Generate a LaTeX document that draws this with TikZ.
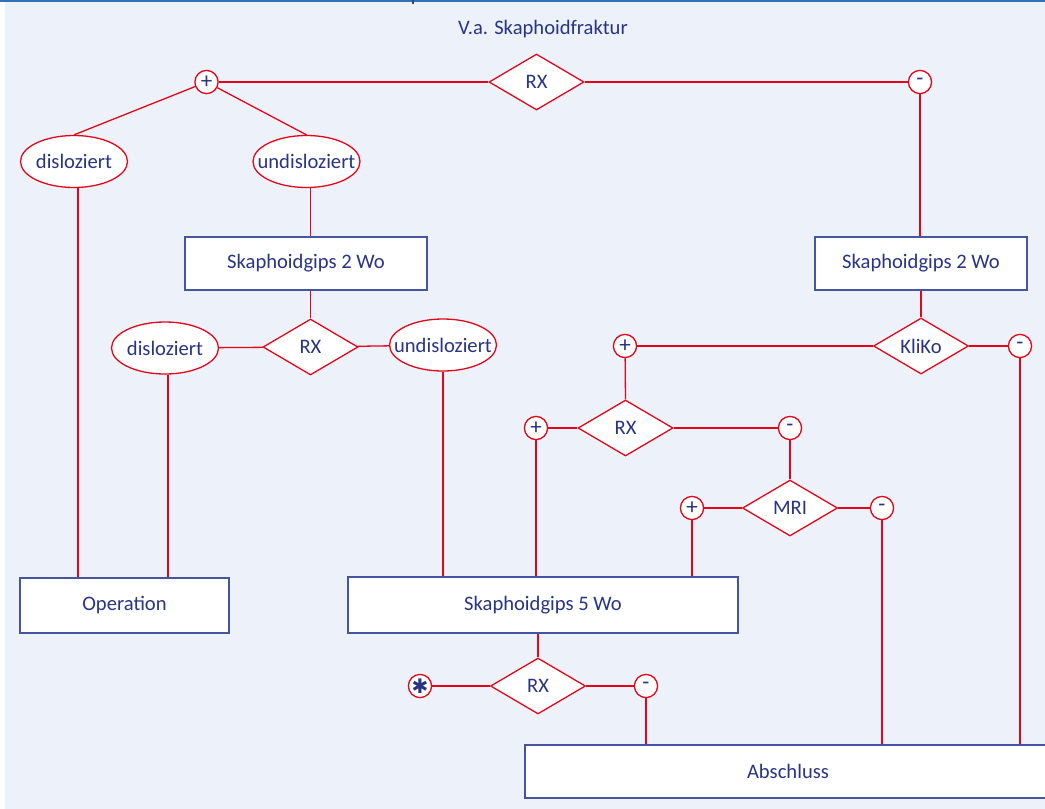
\documentclass[tikz,border=0pt]{standalone}
\usepackage{fontspec}
\setmainfont{Carlito}
\newfontfamily\symfont{DejaVu Sans}
\usetikzlibrary{shapes,arrows,positioning,fit,backgrounds}
\definecolor{linered}{RGB}{227, 6, 26}
\definecolor{navy}{RGB}{40, 52, 132}
\definecolor{boxblue}{RGB}{70, 86, 158}
\definecolor{bgblue}{RGB}{237, 242, 250}
\definecolor{topblue}{RGB}{52, 112, 178}

\begin{document}
\begin{tikzpicture}[x=0.5pt, y=-0.5pt,
  every node/.style={text=navy, font=\fontsize{10.3}{12}\selectfont},
  box/.style={draw=boxblue, line width=1pt, fill=white, inner sep=0pt, minimum height=26.5pt},
  test/.style={diamond, aspect=1.7, draw=linered, line width=0.65pt, fill=white, inner sep=0pt, minimum width=47.5pt, minimum height=28pt},
  finding/.style={ellipse, draw=linered, line width=0.65pt, fill=white, inner sep=0pt, minimum width=53.5pt, minimum height=26pt, label={center:#1}},
  answer/.style={circle, draw=linered, line width=0.65pt, fill=white, inner sep=0pt, minimum size=11.6pt, font=\fontsize{11.5}{12}\selectfont},
  link/.style={draw=linered, line width=0.65pt}]
\useasboundingbox (0,0) rectangle (1045,809);
\clip (0,0) rectangle (1045,809);
\fill[white] (0,0) rectangle (1045,809);
\fill[bgblue] (5,0) rectangle (1045,809);
\draw[topblue, line width=1pt] (0,1) -- (1045,1);
\fill[topblue!70!black] (412,0) rectangle (414,4);

\node (title) at (543,29) {V.a. Skaphoidfraktur};

% First decision
\node[answer] (p1) at (206.5,82) {+};
\node[test] (rx1) at (536.5,82) {RX};
\node[answer] (m1) at (920,82) {-};
\node[finding=disloziert] (dis1) at (74,161.5) {};
\node[finding=undisloziert] (und1) at (306.5,161.5) {};

% Casts
\node[box, minimum width=121pt] (lbox) at (306,263.5) {Skaphoidgips 2 Wo};
\node[box, minimum width=106pt] (rbox) at (921,263.5) {Skaphoidgips 2 Wo};

% Left control
\node[test] (rx2) at (310.5,347) {RX};
\node[finding=disloziert] (dis2) at (165,348) {};
\node[finding=undisloziert] (und2) at (443,345) {};

% Right control
\node[answer] (p2) at (625,346) {+};
\node[test] (kliko) at (921,346) {KliKo};
\node[answer] (m2) at (1020,346) {-};
\node[answer] (p3) at (536,428) {+};
\node[test] (rx3) at (625.5,428) {RX};
\node[answer] (m3) at (790,428) {-};
\node[answer] (p4) at (692,508) {+};
\node[test] (mri) at (790,508) {MRI};
\node[answer] (m4) at (882,508) {-};

% Bottom row
\node[box, minimum width=104.5pt, minimum height=27.5pt] (op) at (124.5,605.5) {Operation};
\node[box, minimum width=195pt, minimum height=28pt] (wo5) at (543,605) {Skaphoidgips 5 Wo};
\node[answer] (star) at (420,686) {\symfont\fontsize{10}{12}\selectfont ✱};
\node[test] (rx4) at (538,686) {RX};
\node[answer] (m5) at (646,686) {-};
\node[box, minimum width=263pt] (abs) at (788,771.5) {Abschluss};

% Connectors
\draw[link] (p1) -- (rx1) -- (m1);
\draw[link] (p1) -- (dis1.north);
\draw[link] (p1) -- (und1.north);
\draw[link] (m1) -- (rbox.north -| m1);
\draw[link] ([xshift=2pt]dis1.south) -- ([xshift=2pt]dis1.south |- op.north);
\draw[link] ([xshift=2pt]und1.south) -- ([xshift=2pt]und1.south |- lbox.north);
\draw[link] (rx2.north |- lbox.south) -- (rx2.north);
\draw[link] (dis2) -- (rx2) -- (und2);
\draw[link] ([xshift=1.5pt]dis2.south) -- ([xshift=1.5pt]dis2.south |- op.north);
\draw[link] (und2.south) -- (und2.south |- wo5.north);
\draw[link] (rbox.south) -- (kliko.north);
\draw[link] (p2) -- (kliko) -- (m2);
\draw[link] (m2) -- (m2 |- abs.north);
\draw[link] (p2) -- (rx3.north);
\draw[link] (p3) -- (rx3) -- (m3);
\draw[link] (p3) -- (p3 |- wo5.north);
\draw[link] (m3) -- (mri.north);
\draw[link] (p4) -- (mri) -- (m4);
\draw[link] (p4) -- (p4 |- wo5.north);
\draw[link] (m4) -- (m4 |- abs.north);
\draw[link] (rx4.north |- wo5.south) -- (rx4.north);
\draw[link] (star) -- (rx4) -- (m5);
\draw[link] (m5) -- (m5 |- abs.north);
\end{tikzpicture}
\end{document}
